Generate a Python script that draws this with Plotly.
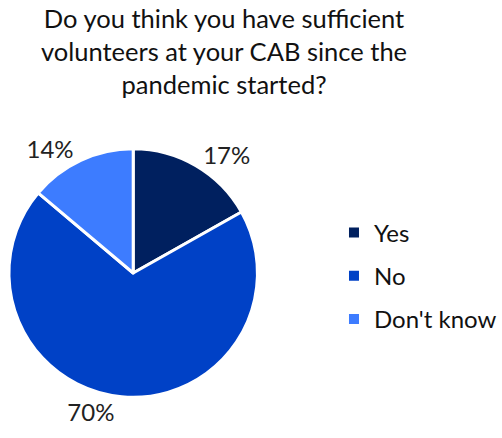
import plotly.graph_objects as go

categories = ["Yes", "No", "Don't know"]
values = [17, 70, 14]
pct_labels = ["17%", "70%", "14%"]
colors = ["#00205F", "#0041C6", "#3D7CFF"]
title_text = "Do you think you have sufficient<br>volunteers at your CAB since the<br>pandemic started?"

W, H = 502, 438

fig = go.Figure()
fig.add_trace(go.Pie(
    labels=categories,
    values=values,
    text=pct_labels,
    textinfo="text",
    textposition="outside",
    sort=False,
    direction="clockwise",
    rotation=0,
    marker=dict(colors=colors, line=dict(color="white", width=3)),
    textfont=dict(family="Lato", size=24, color="#222222"),
    domain=dict(x=[9 / W, 259 / W], y=[1 - 398 / H, 1 - 148 / H]),
    showlegend=False,
))

# legend entries (one per category, so the gap between them can be set)
for cat, col in zip(categories, colors):
    fig.add_trace(go.Scatter(
        x=[None], y=[None], mode="markers", name=cat,
        legendgroup=cat,
        marker=dict(symbol="square", size=10, color=col),
        showlegend=True, hoverinfo="skip",
    ))

fig.update_layout(
    width=W, height=H,
    margin=dict(l=0, r=0, t=0, b=0),
    paper_bgcolor="white",
    plot_bgcolor="white",
    font=dict(family="Lato", color="#111111"),
    xaxis=dict(visible=False),
    yaxis=dict(visible=False),
    annotations=[dict(
        text=title_text, xref="paper", yref="paper",
        x=225 / W, xanchor="center", y=1 - 1 / H, yanchor="top",
        showarrow=False, align="center",
        font=dict(family="Lato", size=25.5, color="#111111"),
    )],
    legend=dict(
        x=336 / W, xanchor="left",
        y=1 - 276 / H, yanchor="middle",
        font=dict(family="Lato", size=24, color="#111111"),
        bgcolor="rgba(0,0,0,0)",
        itemwidth=30,
        tracegroupgap=9,
    ),
)

fig.write_html("out.html")
